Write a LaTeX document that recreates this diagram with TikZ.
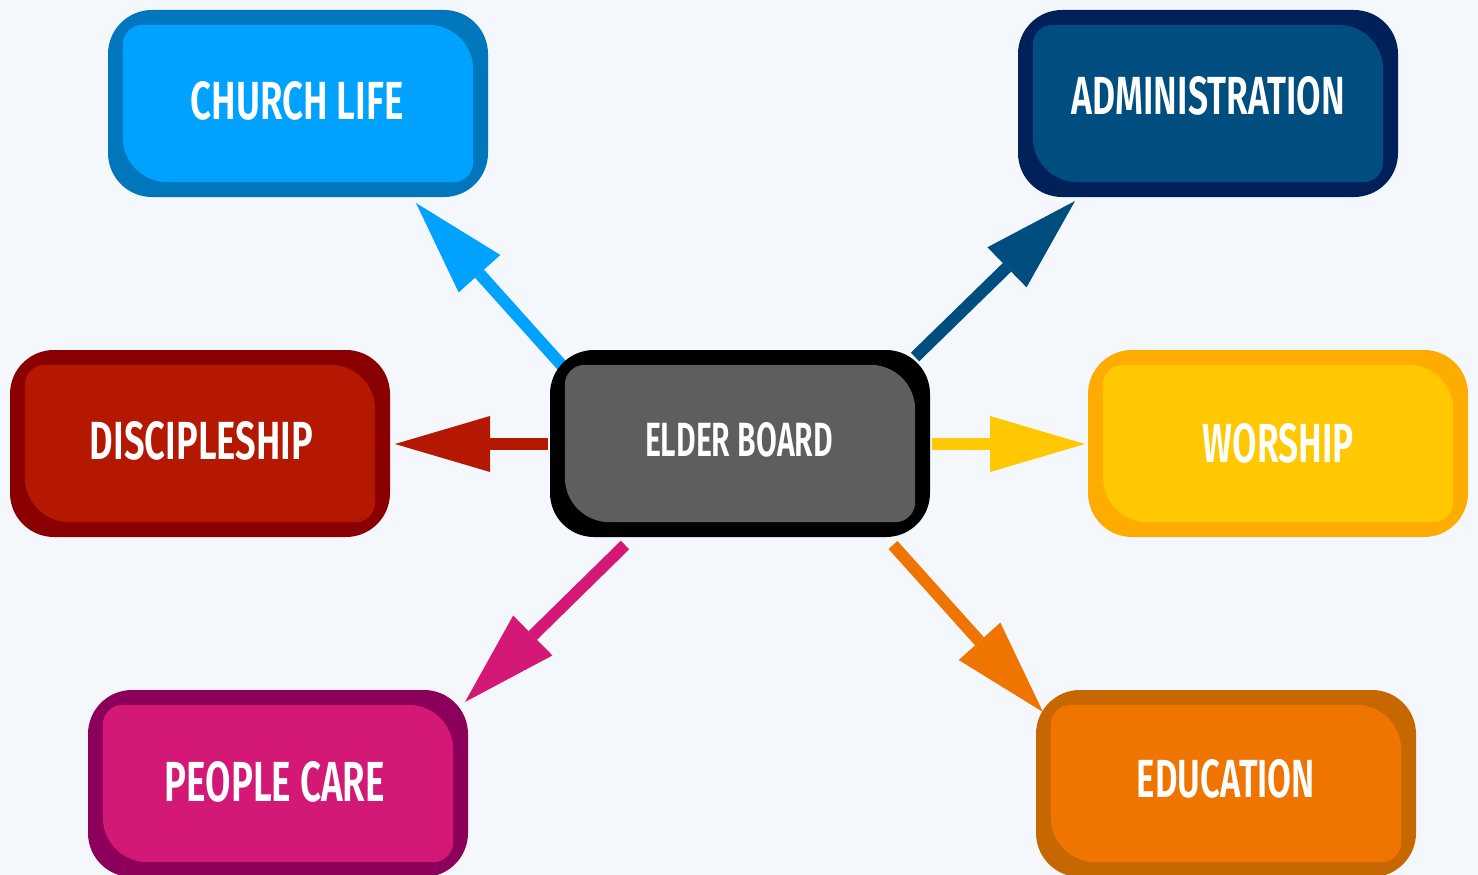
\documentclass[tikz,border=0pt]{standalone}
\usepackage{fontspec}
\usepackage{graphicx}
\newfontfamily\lblfont{Fira Sans}[UprightFont=* SemiBold, BoldFont=* SemiBold]
\usetikzlibrary{arrows.meta,calc}
\definecolor{bg}{HTML}{F4F8FC}
\definecolor{clO}{HTML}{0077BD}\definecolor{clI}{HTML}{00A2FF}
\definecolor{adO}{HTML}{00205A}\definecolor{adI}{HTML}{004E80}
\definecolor{diO}{HTML}{8A0000}\definecolor{diI}{HTML}{B51800}
\definecolor{ebO}{HTML}{000000}\definecolor{ebI}{HTML}{5E5E5E}
\definecolor{woO}{HTML}{FFAC00}\definecolor{woI}{HTML}{FFC800}
\definecolor{pcO}{HTML}{8C005C}\definecolor{pcI}{HTML}{D41876}
\definecolor{edO}{HTML}{C66700}\definecolor{edI}{HTML}{F07400}
\newcommand{\lbltext}[3]{\resizebox{#1pt}{#2pt}{\lblfont #3}}
% inner face of a box node #1 in colour #2
\newcommand{\boxface}[2]{%
  \fill[#2] ($(#1.north west)+(15,35)$) .. controls ($(#1.north west)+(15,24)$) and ($(#1.north west)+(24,15)$) .. ($(#1.north west)+(35,15)$)
    -- ($(#1.north east)+(-60,15)$) .. controls ($(#1.north east)+(-35,15)$) and ($(#1.north east)+(-15,35)$) .. ($(#1.north east)+(-15,60)$)
    -- ($(#1.south east)+(-15,-35)$) .. controls ($(#1.south east)+(-15,-24)$) and ($(#1.south east)+(-24,-15)$) .. ($(#1.south east)+(-35,-15)$)
    -- ($(#1.south west)+(60,-15)$) .. controls ($(#1.south west)+(35,-15)$) and ($(#1.south west)+(15,-35)$) .. ($(#1.south west)+(15,-60)$)
    -- cycle;}
\tikzset{
  box/.style={rectangle, rounded corners=44pt, minimum width=380pt, minimum height=187pt,
    inner sep=0pt, draw=none},
  lbl/.style={inner sep=0pt, text=white},
  arr/.style={line width=12pt, -{Triangle[length=95pt,width=56pt,line width=0pt]}}
}
\begin{document}
\begin{tikzpicture}[x=1pt,y=-1pt]
\fill[bg] (0,0) rectangle (1478,875);
\useasboundingbox (0,0) rectangle (1478,875);
% connector end points
\coordinate (s1) at (566,370); \coordinate (t1) at (416,203);
\coordinate (s2) at (915,357); \coordinate (t2) at (1075,201);
\coordinate (s3) at (548,444); \coordinate (t3) at (395,444);
\coordinate (s4) at (932,444); \coordinate (t4) at (1085,444);
\coordinate (s5) at (625,545); \coordinate (t5) at (465,702);
\coordinate (s6) at (893,545); \coordinate (t6) at (1043,712);
\draw[arr, clI] (s1) -- (t1);
\draw[arr, adI] (s2) -- (t2);
\draw[arr, diI] (s3) -- (t3);
\draw[arr, woI] (s4) -- (t4);
\draw[arr, pcI] (s5) -- (t5);
\draw[arr, edI] (s6) -- (t6);
% boxes
\node[box, fill=clO] (cl) at (298,103.5) {};
\node[box, fill=adO] (ad) at (1208,103.5) {};
\node[box, fill=diO] (di) at (200,443.5) {};
\node[box, fill=ebO] (eb) at (740,443.5) {};
\node[box, fill=woO] (wo) at (1278,443.5) {};
\node[box, fill=pcO] (pc) at (278,783.5) {};
\node[box, fill=edO] (ed) at (1226,783.5) {};
\boxface{cl}{clI}
\boxface{ad}{adI}
\boxface{di}{diI}
\boxface{eb}{ebI}
\boxface{wo}{woI}
\boxface{pc}{pcI}
\boxface{ed}{edI}
% labels
\node[lbl] (clt) at (297,101) {\lbltext{213}{38}{CHURCH LIFE}};
\node[lbl] (adt) at (1208.5,96) {\lbltext{273}{38}{ADMINISTRATION}};
\node[lbl] (dit) at (201.5,441) {\lbltext{223}{38}{DISCIPLESHIP}};
\node[lbl] (ebt) at (739,440) {\lbltext{188}{34}{ELDER BOARD}};
\node[lbl] (wot) at (1278.5,443) {\lbltext{151}{39}{WORSHIP}};
\node[lbl] (pct) at (275,782) {\lbltext{220}{40}{PEOPLE CARE}};
\node[lbl] (edt) at (1226,779) {\lbltext{178}{38}{EDUCATION}};
\end{tikzpicture}
\end{document}
